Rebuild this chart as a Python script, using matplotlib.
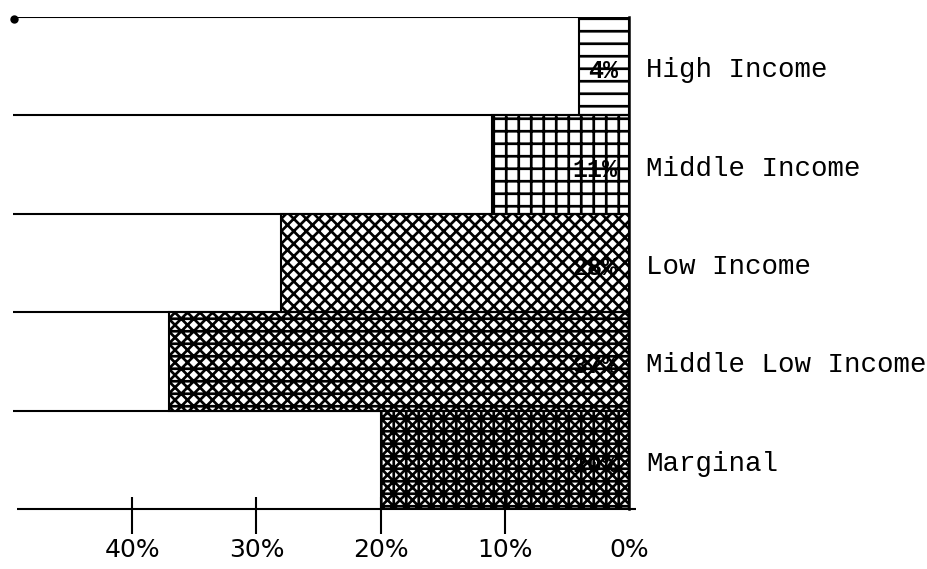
import matplotlib.pyplot as plt

categories = ["High Income", "Middle Income", "Low Income", "Middle Low Income", "Marginal"]
shares = [4, 11, 28, 37, 20]
share_labels = ["4%", "11%", "28%", "37%", "20%"]
tick_values = [40, 30, 20, 10, 0]
tick_labels = ["40%", "30%", "20%", "10%", "0%"]
hatches = ["--", "++", "xxxx", "xxxx--", "xxxx++"]

plt.rcParams['hatch.linewidth'] = 1.3
plt.rcParams['hatch.color'] = 'black'

W, H = 927, 569
fig = plt.figure(figsize=(W / 150, H / 150), dpi=150)
ax = fig.add_axes([13 / W, 1 - 509 / H, (629 - 13) / W, (509 - 17) / H])

xmax = 49.6
ypos = list(range(len(categories)))

bars = ax.barh(ypos, shares, height=1.0, left=0, facecolor='none',
               edgecolor='black', linewidth=1.0, zorder=3)
for bar, h in zip(bars, hatches):
    bar.set_hatch(h)

# row dividers running across the whole chart
bounds = [y - 0.5 for y in ypos] + [ypos[-1] + 0.5]
ax.hlines(bounds[:-1], xmax, 0, color='black', linewidth=1.0, zorder=4)
ax.hlines(bounds[-1], xmax - 0.3, -0.6, color='black', linewidth=1.0,
          zorder=4, clip_on=False)
ax.plot([xmax - 0.1], [bounds[0] + 0.02], 'o', color='black', ms=3, clip_on=False)

# percentages, drawn under the hatching
for y, lab in zip(ypos, share_labels):
    ax.text(0.9, y + 0.05, lab, ha='right', va='center', fontsize=12,
            fontweight='bold', family=['Liberation Mono', 'DejaVu Sans Mono'],
            zorder=2)

for y, cat in zip(ypos, categories):
    ax.text(-1.4, y + 0.04, cat, ha='left', va='center', fontsize=13.2,
            family=['Liberation Mono', 'DejaVu Sans Mono'])

# hand drawn looking ticks crossing the base line
ax.vlines(tick_values[:-1], -0.051, 0.024, transform=ax.get_xaxis_transform(),
          color='black', linewidth=1.0, clip_on=False)

ax.set_xlim(xmax, 0)
ax.set_ylim(bounds[-1], bounds[0])
ax.set_xticks(tick_values)
ax.set_xticklabels(tick_labels, fontsize=12, family='DejaVu Sans')
ax.tick_params(axis='x', length=0, pad=14)
ax.set_yticks([])
for side in ['left', 'top', 'bottom']:
    ax.spines[side].set_visible(False)
ax.spines['right'].set_linewidth(1.2)

fig.savefig("out.png", dpi=150)
